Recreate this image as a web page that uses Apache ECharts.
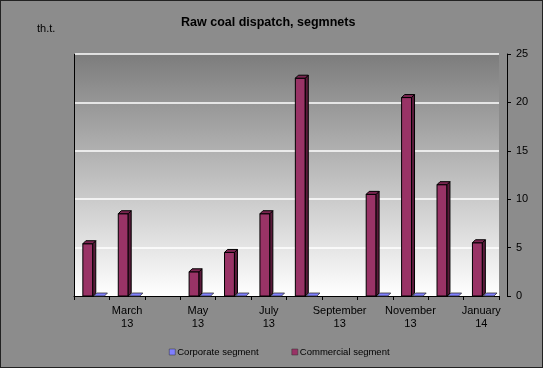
<!DOCTYPE html>
<html><head><meta charset="utf-8">
<script src="https://cdn.jsdelivr.net/npm/echarts@6/dist/echarts.min.js"></script>
<style>html,body{margin:0;padding:0;background:#8c8c8c}#c{width:543px;height:368px;box-sizing:border-box;border:1px solid #222}</style>
</head><body><div id="c"></div>
<script>
const months = ['February\n13','March\n13','April\n13','May\n13','June\n13','July\n13','August\n13','September\n13','October\n13','November\n13','December\n13','January\n14'];
const corporate = [0,0,'-',0,0,0,0,'-',0,0,0,0];
const commercial = [5.4,8.5,'-',2.5,4.5,8.5,22.5,'-',10.5,20.5,11.5,5.5];
const yTicks = [0,5,10,15,20,25];

const chart = echarts.init(document.getElementById('c'), null, {renderer:'canvas'});
const F = 'Arial, "Liberation Sans", sans-serif';

function bar3d(params, api){
  const v = api.value(1);
  if (isNaN(v)) return null;
  const i = api.value(0);
  const bw = api.size([1,0])[0];
  const top = api.coord([i, v]);
  const base = api.coord([i, 0]);
  const cx = base[0];
  const x0 = cx - bw*0.25, x1 = cx + bw*0.03, d = 3;
  const h = base[1]-top[1];
  return {type:'group', children:[
    {type:'rect', shape:{x:x0, y:top[1], width:x1-x0, height:h}, style:{fill:'#993366', stroke:'#000', lineWidth:1}},
    {type:'polygon', shape:{points:[[x1,top[1]],[x1+d,top[1]-d],[x1+d,base[1]-d],[x1,base[1]]]}, style:{fill:'#5a1a3a', stroke:'#000', lineWidth:1}},
    {type:'polygon', shape:{points:[[x0,top[1]],[x0+d,top[1]-d],[x1+d,top[1]-d],[x1,top[1]]]}, style:{fill:'#7a2550', stroke:'#000', lineWidth:1}}
  ]};
}
function flat3d(params, api){
  const v = api.value(1);
  if (isNaN(v)) return null;
  const i = api.value(0);
  const bw = api.size([1,0])[0];
  const base = api.coord([i, v]);
  const cx = base[0];
  const x0 = cx + bw*0.06, x1 = cx + bw*0.36, d = 3;
  return {type:'polygon', shape:{points:[[x0,base[1]],[x1,base[1]],[x1+d,base[1]-d],[x0+d,base[1]-d]]}, style:{fill:'#7f7fff', stroke:'#333', lineWidth:0.8}};
}

chart.setOption({
  backgroundColor:'#8c8c8c',
  animation:false,
  title:{text:'Raw coal dispatch, segmnets', left:175, top:10, textStyle:{fontFamily:F, fontSize:12.5, fontWeight:'bold', color:'#000'}},
  graphic:[{type:'text', left:36, top:22, style:{text:'th.t.', font:'11px '+F, fill:'#000'}}],
  legend:{bottom:5, left:163, itemWidth:6, itemHeight:6, itemGap:33, icon:'rect',
    textStyle:{fontFamily:F, fontSize:9.5, color:'#000', padding:[0,0,0,-3]},
    data:[{name:'Corporate segment', itemStyle:{color:'#7f7fff', borderColor:'#333', borderWidth:0.5}},
          {name:'Commercial segment', itemStyle:{color:'#993366', borderColor:'#333', borderWidth:0.5}}]},
  grid:{left:73, right:43, top:53, bottom:71, show:true, borderWidth:0,
    backgroundColor:{type:'linear', x:0, y:0, x2:0, y2:1, colorStops:[{offset:0,color:'#7c7c7c'},{offset:1,color:'#ffffff'}]}},
  xAxis:{type:'category', data:months, boundaryGap:true,
    axisLine:{show:true, lineStyle:{color:'#000', width:1}},
    axisTick:{show:true, interval:0, length:4, lineStyle:{color:'#000'}},
    axisLabel:{interval:(idx)=>idx%2===1, fontFamily:F, fontSize:11, color:'#000', lineHeight:13, margin:8}},
  yAxis:[{type:'value', position:'right', offset:8, min:0, max:25, interval:5,
    axisLine:{show:true, lineStyle:{color:'#000'}},
    axisTick:{show:true, length:4, lineStyle:{color:'#000'}},
    axisLabel:{fontFamily:F, fontSize:11, color:'#000', margin:9, formatter:(v)=>yTicks.includes(v)?String(v):''},
    splitLine:{show:true, lineStyle:{color:'#ffffff', width:1.5}}},
    {type:'value', position:'left', min:0, max:25, interval:5, axisLine:{show:true, lineStyle:{color:'#000'}}, axisTick:{show:false}, axisLabel:{show:false}, splitLine:{show:false}}],
  series:[
    {name:'Corporate segment', type:'custom', renderItem:flat3d, encode:{x:0,y:1}, itemStyle:{color:'#7f7fff'},
      data:corporate.map((v,i)=>[i,v]), z:3},
    {name:'Commercial segment', type:'custom', renderItem:bar3d, encode:{x:0,y:1}, itemStyle:{color:'#993366'},
      data:commercial.map((v,i)=>[i,v]), z:4}
  ]
});
</script></body></html>
